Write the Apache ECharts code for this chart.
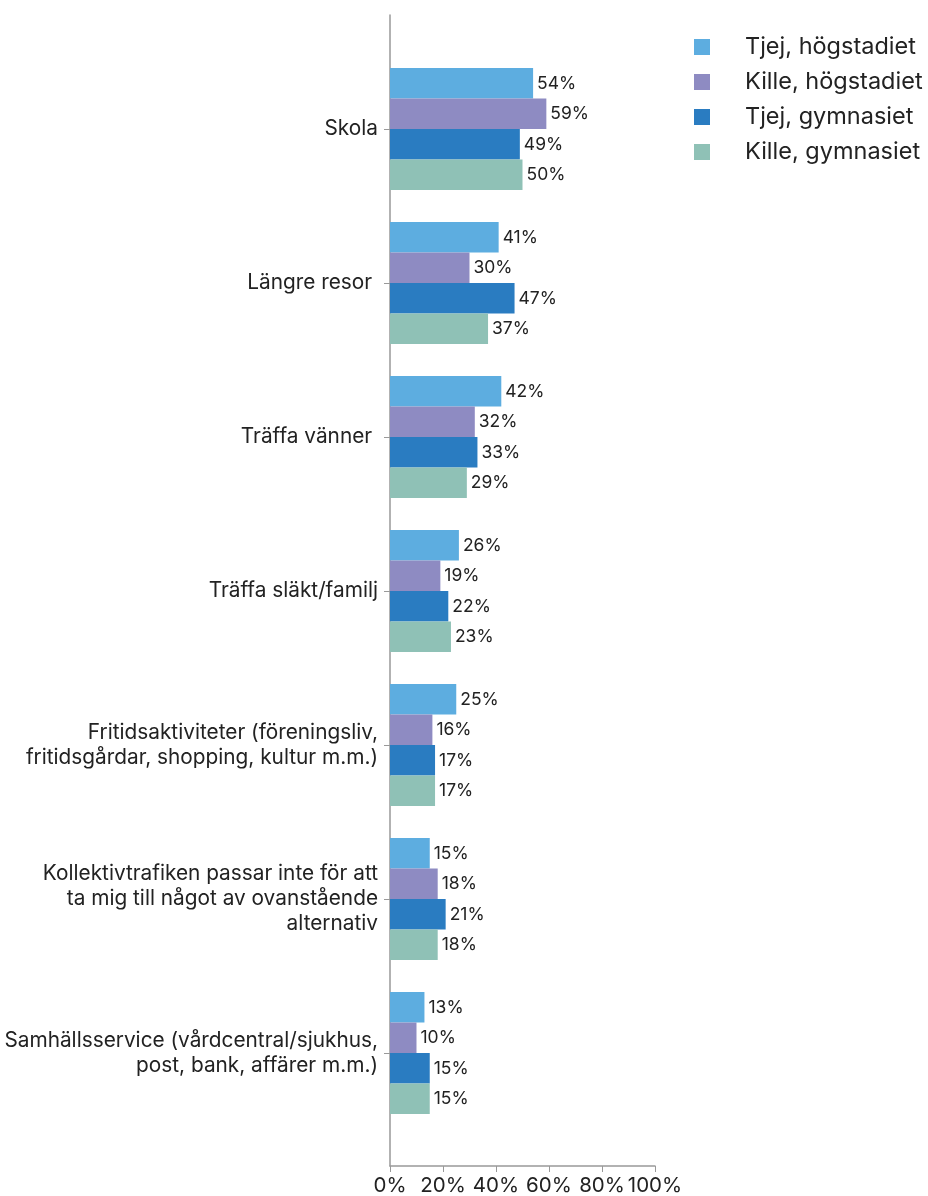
<!DOCTYPE html>
<html>
<head>
<meta charset="utf-8">
<script src="https://cdn.jsdelivr.net/npm/echarts@6/dist/echarts.min.js"></script>
<style>
  html, body { margin: 0; padding: 0; background: #fff; }
  #chart { width: 928px; height: 1196px; }
</style>
</head>
<body>
<div id="chart"></div>
<script>
const categories = [
  "Skola",
  "Längre resor ",
  "Träffa vänner ",
  "Träffa släkt/familj",
  "Fritidsaktiviteter (föreningsliv,\nfritidsgårdar, shopping, kultur m.m.)",
  "Kollektivtrafiken passar inte för att\nta mig till något av ovanstående\nalternativ",
  "Samhällsservice (vårdcentral/sjukhus,\npost, bank, affärer m.m.)"
];
const seriesNames = ["Tjej, högstadiet", "Kille, högstadiet", "Tjej, gymnasiet", "Kille, gymnasiet"];
const tjejHog = [54, 41, 42, 26, 25, 15, 13];
const killeHog = [59, 30, 32, 19, 16, 18, 10];
const tjejGym = [49, 47, 33, 22, 17, 21, 15];
const killeGym = [50, 37, 29, 23, 17, 18, 15];
const xTicks = [0, 20, 40, 60, 80, 100];
const colors = ["#5dade0", "#8e8bc2", "#2a7cc1", "#8fc1b6"];

const FONT = "Inter, 'Noto Sans', sans-serif";
const chart = echarts.init(document.getElementById("chart"));

const values = [tjejHog, killeHog, tjejGym, killeGym];

const option = {
  color: colors,
  textStyle: { fontFamily: FONT },
  legend: {
    orient: "vertical",
    left: 689,
    top: 30,
    itemWidth: 16,
    itemHeight: 16,
    itemGap: 11,
    icon: "rect",
    data: seriesNames,
    textStyle: {
      fontFamily: FONT,
      fontSize: 23.5,
      color: "#222",
      lineHeight: 23,
      padding: [0, 0, 0, 30]
    }
  },
  grid: [
    // outer frame: axis lines and x ticks
    { left: 390, right: 273, top: 15, bottom: 29 },
    // bars
    { left: 390, right: 273, top: 52, bottom: 66 }
  ],
  xAxis: [
    {
      gridIndex: 0,
      type: "value",
      min: 0,
      max: 100,
      interval: 20,
      axisLine: { show: true, lineStyle: { color: "#999", width: 1.5 } },
      axisTick: { show: true, length: 6, lineStyle: { color: "#999" } },
      splitLine: { show: false },
      axisLabel: {
        margin: 9,
        fontSize: 20.5,
        color: "#222",
        fontFamily: FONT,
        formatter: (v) => (xTicks.includes(v) ? v + "%" : "")
      }
    },
    {
      gridIndex: 1,
      type: "value",
      min: 0,
      max: 100,
      show: false
    }
  ],
  yAxis: [
    {
      gridIndex: 0,
      type: "category",
      data: [""],
      axisLine: { show: true, lineStyle: { color: "#999", width: 1.5 } },
      axisTick: { show: false },
      axisLabel: { show: false }
    },
    {
      gridIndex: 1,
      type: "category",
      inverse: true,
      data: categories,
      axisLine: { show: false },
      axisTick: { show: true, alignWithLabel: true, length: 6, lineStyle: { color: "#999" } },
      axisLabel: {
        margin: 12,
        fontSize: 20.8,
        lineHeight: 25,
        color: "#222",
        align: "right",
        fontFamily: FONT
      }
    }
  ],
  series: values.map((arr, i) => ({
    name: seriesNames[i],
    type: "bar",
    xAxisIndex: 1,
    yAxisIndex: 1,
    data: arr,
    barGap: "0%",
    barCategoryGap: "20.8%",
    label: {
      show: true,
      position: "right",
      distance: 4,
      fontSize: 17.5,
      color: "#222",
      fontFamily: FONT,
      formatter: "{c}%"
    }
  }))
};

chart.setOption(option);
</script>
</body>
</html>
